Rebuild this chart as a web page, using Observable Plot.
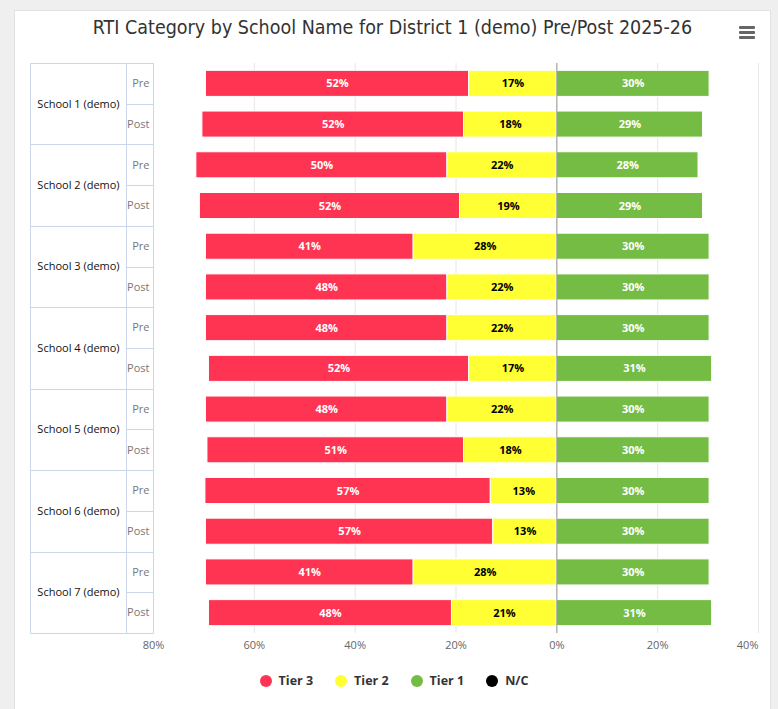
<!DOCTYPE html>
<html>
<head>
<meta charset="utf-8">
<script src="https://cdn.jsdelivr.net/npm/d3@7"></script>
<script src="https://cdn.jsdelivr.net/npm/@observablehq/plot@0.6"></script>
<style>
  html, body { margin: 0; padding: 0; }
  body { width: 778px; height: 709px; background: #efefef; position: relative; overflow: hidden; font-family: "Open Sans", sans-serif; }
  #card { position: absolute; left: 14px; top: 10px; width: 755px; height: 720px; background: #fff; border: 1px solid #e2e2e2; }
  #title { position: absolute; left: 0; top: 15px; width: 785px; text-align: center; font-family: "DejaVu Sans Condensed", "DejaVu Sans", sans-serif; font-stretch: condensed; font-size: 19.5px; line-height: 26px; color: #333; white-space: nowrap; }
  #menu { position: absolute; left: 739px; top: 26px; width: 16px; }
  #menu div { height: 3px; background: #666; margin-bottom: 2px; border-radius: 1px; }
  #chart { position: absolute; left: 0; top: 48px; }
  #legend { position: absolute; left: 0; top: 672px; width: 788px; display: flex; justify-content: center; align-items: center; }
  .item { display: flex; align-items: center; margin: 0 11px; font-weight: bold; font-size: 12.5px; color: #333; }
  .dot { width: 12px; height: 12px; border-radius: 50%; margin-right: 7px; }
</style>
</head>
<body>
<div id="card"></div>
<div id="title">RTI Category by School Name for District 1 (demo) Pre/Post 2025-26</div>
<div id="menu"><div></div><div></div><div></div></div>
<div id="chart"></div>
<div id="legend"></div>
<script>
// ---- data ----
const schools = ["School 1 (demo)", "School 2 (demo)", "School 3 (demo)", "School 4 (demo)", "School 5 (demo)", "School 6 (demo)", "School 7 (demo)"];
const periods = ["Pre", "Post"];
const tiers = ["Tier 3", "Tier 2", "Tier 1", "N/C"];
const tierColors = ["#ff3352", "#ffff33", "#74bc44", "#000000"];
const labelColors = ["#ffffff", "#000000", "#ffffff", "#ffffff"];
// rows: School 1 Pre, School 1 Post, School 2 Pre, ...
const tier3 = [52.2, 51.9, 49.8, 51.6, 41.2, 47.9, 47.9, 51.6, 47.9, 50.9, 56.6, 57.0, 41.2, 48.2];
const tier2 = [17.4, 18.4, 21.7, 19.2, 28.4, 21.7, 21.7, 17.4, 21.7, 18.4, 13.1, 12.6, 28.4, 20.8];
const tier1 = [30.3, 29.0, 28.1, 29.0, 30.3, 30.3, 30.3, 30.8, 30.3, 30.3, 30.3, 30.3, 30.3, 30.8];
const xTicks = [-80, -60, -40, -20, 0, 20, 40];

// ---- derived tables ----
const rowKey = (s, p) => s + "|" + p;
const rowKeys = schools.flatMap(s => periods.map(p => rowKey(s, p)));
const segments = [];
rowKeys.forEach((row, i) => {
  const t3 = tier3[i], t2 = tier2[i], t1 = tier1[i];
  segments.push({row, tier: 0, value: t3, x1: -(t2 + t3), x2: -t2});
  segments.push({row, tier: 1, value: t2, x1: -t2, x2: 0});
  segments.push({row, tier: 2, value: t1, x1: 0, x2: t1});
});

const tableLeft = 30.5, subLeft = 126.5;

function tableMark(index, scales, values, dims) {
  const y = scales.y;
  const bw = y.bandwidth();
  const step = y(rowKeys[1]) - y(rowKeys[0]);
  const center = k => y(k) + bw / 2;
  const top = k => center(k) - step / 2;
  const bottom = k => center(k) + step / 2;
  const xL = tableLeft, xM = subLeft, xR = dims.marginLeft + 0.5;
  const g = d3.create("svg:g");
  const lines = g.append("g").attr("stroke", "#ccd6eb").attr("stroke-width", 1).attr("fill", "none");
  const line = (x1, y1, x2, y2) => lines.append("line").attr("x1", x1).attr("y1", y1).attr("x2", x2).attr("y2", y2);
  const y0 = Math.round(top(rowKeys[0])) + 0.5, y1 = Math.round(bottom(rowKeys[rowKeys.length - 1])) + 0.5;
  [xL, xM, xR].forEach(x => line(x, y0, x, y1));
  schools.forEach(s => {
    const k0 = rowKey(s, periods[0]), k1 = rowKey(s, periods[1]);
    const ty = Math.round(top(k0)) + 0.5, by = Math.round(bottom(k1)) + 0.5;
    line(xL, ty, xR, ty);
    line(xL, by, xR, by);
    const sy = Math.round(bottom(k0)) + 0.5;
    line(xM, sy, xR, sy);
    g.append("text").attr("x", (xL + xM) / 2).attr("y", (top(k0) + bottom(k1)) / 2)
      .attr("text-anchor", "middle").attr("dy", "0.35em").attr("fill", "#111").attr("font-size", 11).text(s);
    periods.forEach(p => {
      const k = rowKey(s, p);
      g.append("text").attr("x", xR - 4).attr("y", center(k)).attr("text-anchor", "end").attr("dy", "0.35em")
        .attr("fill", "#777").attr("font-size", 11).text(p);
    });
  });
  return g.node();
}

const chart = Plot.plot({
  width: 778,
  height: 620,
  marginLeft: 153,
  marginRight: 20,
  marginTop: 15,
  marginBottom: 35,
  x: {domain: [-80, 40], axis: null},
  y: {domain: rowKeys, axis: null, paddingInner: 0.36, paddingOuter: 0.18, round: false},
  color: {type: "identity"},
  style: {fontFamily: "Open Sans, sans-serif", fontSize: "11px", background: "transparent", overflow: "visible"},
  marks: [
    Plot.ruleX(xTicks, {x: d => d, stroke: "#e6e6e6", strokeOpacity: 1}),
    Plot.barX(segments, {x1: "x1", x2: "x2", y: "row", fill: d => tierColors[d.tier], stroke: "#fff", strokeWidth: 1}),
    Plot.ruleX([0], {x: d => d, stroke: "#999", strokeWidth: 1}),
    Plot.text(segments, {
      x: d => (d.x1 + d.x2) / 2, y: "row", text: d => Math.round(d.value) + "%",
      fill: d => labelColors[d.tier], fontWeight: "bold", fontSize: 11
    }),
    Plot.text(xTicks.slice(0, -1), {x: d => d, frameAnchor: "bottom", dy: 15, text: d => Math.abs(d) + "%", fill: "#666", fontSize: 11}),
    Plot.text(xTicks.slice(-1), {x: d => d, frameAnchor: "bottom", dy: 15, text: d => Math.abs(d) + "%", fill: "#666", fontSize: 11, textAnchor: "end"}),
    tableMark
  ]
});
document.getElementById("chart").appendChild(chart);

const legend = d3.select("#legend");
tiers.forEach((t, i) => {
  const item = legend.append("div").attr("class", "item");
  item.append("span").attr("class", "dot").style("background", tierColors[i]);
  item.append("span").text(t);
});
</script>
</body>
</html>
